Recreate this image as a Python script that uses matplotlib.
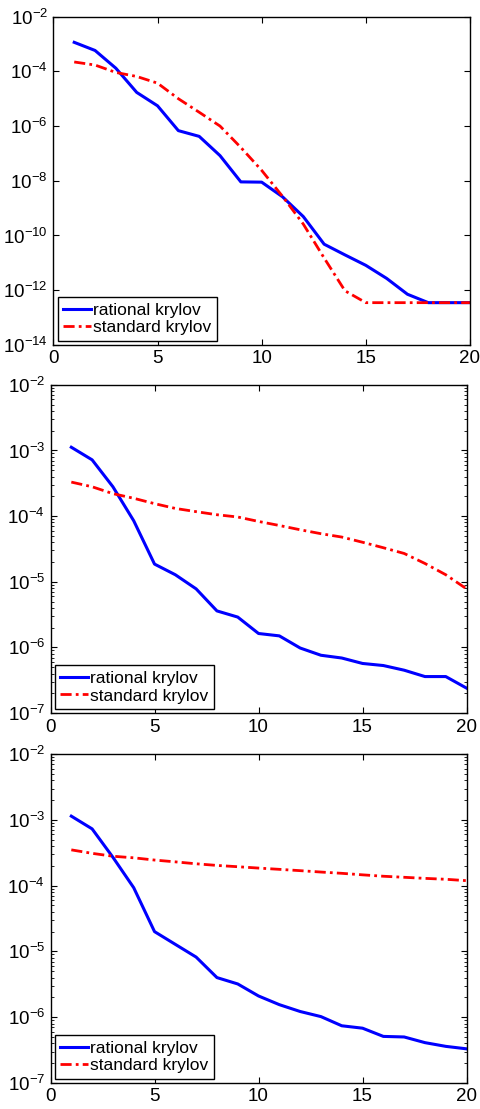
import matplotlib
matplotlib.use("Agg")
import matplotlib.pyplot as plt
from matplotlib.ticker import LogLocator, NullLocator, FixedLocator

plt.rcParams["font.family"] = ["Liberation Sans", "DejaVu Sans"]
plt.rcParams["mathtext.fontset"] = "custom"
plt.rcParams["mathtext.rm"] = "Liberation Sans"
plt.rcParams["mathtext.it"] = "Liberation Sans:italic"

ITER = list(range(1, 21))
LABELS = ["rational krylov", "standard krylov"]

# panel 1
RAT_1 = [1.15e-3, 5.8e-4, 1.3e-4, 1.7e-5, 5.5e-6, 6.8e-7, 4.2e-7, 8.3e-8, 9.1e-9, 8.9e-9,
         2.6e-9, 4.9e-10, 4.8e-11, 1.95e-11, 8.1e-12, 2.7e-12, 7.1e-13, 3.5e-13, 3.5e-13, 3.5e-13]
STD_1 = [2.2e-4, 1.7e-4, 9.1e-5, 6.5e-5, 3.7e-5, 1.0e-5, 3.2e-6, 1.0e-6, 1.65e-7, 2.4e-8,
         2.7e-9, 2.6e-10, 1.5e-11, 9.5e-13, 3.5e-13, 3.5e-13, 3.5e-13, 3.5e-13, 3.5e-13, 3.5e-13]

# panel 2
RAT_2 = [1.12e-3, 7.2e-4, 2.8e-4, 8.5e-5, 1.86e-5, 1.28e-5, 7.8e-6, 3.6e-6, 2.9e-6, 1.63e-6,
         1.5e-6, 9.8e-7, 7.6e-7, 6.9e-7, 5.7e-7, 5.3e-7, 4.5e-7, 3.6e-7, 3.6e-7, 2.4e-7]
STD_2 = [3.3e-4, 2.8e-4, 2.2e-4, 1.87e-4, 1.55e-4, 1.31e-4, 1.17e-4, 1.05e-4, 9.7e-5, 8.3e-5,
         7.2e-5, 6.2e-5, 5.4e-5, 4.8e-5, 4.0e-5, 3.3e-5, 2.7e-5, 1.9e-5, 1.28e-5, 7.8e-6]

# panel 3
RAT_3 = [1.14e-3, 7.3e-4, 2.7e-4, 9.3e-5, 2.0e-5, 1.28e-5, 8.2e-6, 4.0e-6, 3.2e-6, 2.1e-6,
         1.55e-6, 1.22e-6, 1.02e-6, 7.4e-7, 6.8e-7, 5.1e-7, 5.0e-7, 4.1e-7, 3.6e-7, 3.3e-7]
STD_3 = [3.5e-4, 3.1e-4, 2.8e-4, 2.65e-4, 2.45e-4, 2.3e-4, 2.15e-4, 2.03e-4, 1.94e-4, 1.85e-4,
         1.77e-4, 1.69e-4, 1.61e-4, 1.54e-4, 1.46e-4, 1.39e-4, 1.34e-4, 1.29e-4, 1.25e-4, 1.19e-4]

BLUE = "#0000FF"
RED = "#FF0000"


def draw_panel(ax, rat, std, ylim, decade_step):
    ax.semilogy(ITER, rat, color=BLUE, lw=2.2)
    ax.semilogy(ITER, std, color=RED, lw=2.0, linestyle=(0, (4, 1.5, 1, 1.5)))
    ax.set_xlim(0, 20)
    ax.set_ylim(*ylim)
    ax.xaxis.set_major_locator(FixedLocator([0, 5, 10, 15, 20]))
    if decade_step == 1:
        ax.yaxis.set_major_locator(LogLocator(base=10, numticks=20))
        ax.yaxis.set_minor_locator(LogLocator(base=10, subs=range(2, 10), numticks=20))
    else:
        ax.yaxis.set_major_locator(FixedLocator([10.0 ** e for e in range(-14, -1, 2)]))
        ax.yaxis.set_minor_locator(NullLocator())
    ax.tick_params(which="both", direction="in", top=True, right=True,
                   labelsize=13.5, pad=4)
    ax.tick_params(which="major", length=4, width=0.8)
    ax.tick_params(which="minor", length=2.5, width=0.6)
    for s in ax.spines.values():
        s.set_linewidth(1.0)
    leg = ax.legend(LABELS, loc="lower left", fontsize=12.5, fancybox=False,
                    framealpha=1, edgecolor="black", borderaxespad=0.25,
                    handlelength=1.6, handletextpad=0.15, borderpad=0.3,
                    labelspacing=0.15)
    leg.get_frame().set_linewidth(1.0)


fig = plt.figure(figsize=(4.81, 11.09), dpi=100)
ax1 = fig.add_axes([0.111, 0.689, 0.866, 0.296])
ax2 = fig.add_axes([0.105, 0.357, 0.865, 0.296])
ax3 = fig.add_axes([0.105, 0.0235, 0.865, 0.2965])

draw_panel(ax1, RAT_1, STD_1, (1e-14, 1e-2), 2)
draw_panel(ax2, RAT_2, STD_2, (1e-7, 1e-2), 1)
draw_panel(ax3, RAT_3, STD_3, (1e-7, 1e-2), 1)

fig.savefig("out.png", dpi=100, facecolor="white")
